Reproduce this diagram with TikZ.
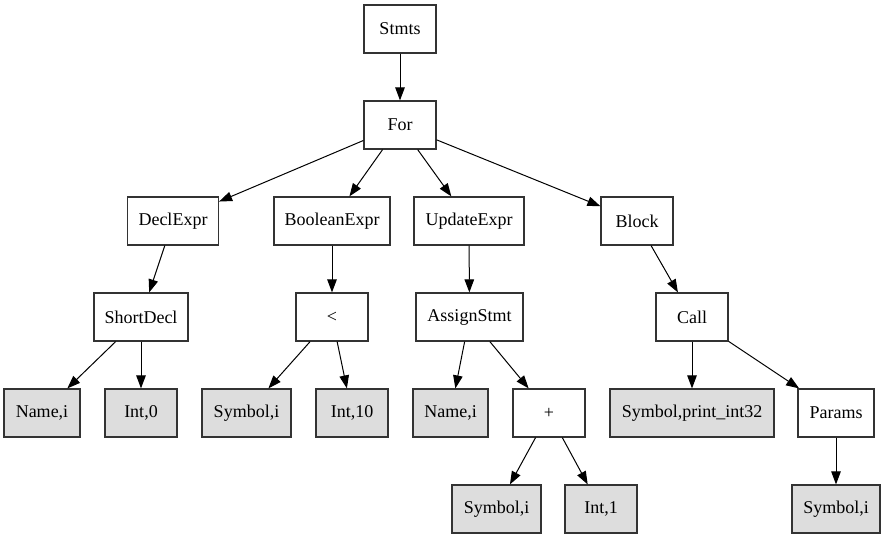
\documentclass[tikz,border=0pt]{standalone}
\usepackage{fontspec}
\setmainfont{Liberation Serif}
\usetikzlibrary{arrows.meta}
\definecolor{leafgray}{HTML}{DDDDDD}
\definecolor{boxline}{HTML}{333333}
\tikzset{
  ast/.style={draw=boxline, line width=1.2pt, rectangle, fill=white,
    minimum height=48pt, minimum width=72pt, inner xsep=10pt, inner ysep=0pt,
    font=\fontsize{18}{20}\selectfont, anchor=center},
  leaf/.style={ast, fill=leafgray},
  edge/.style={draw=black, line width=1pt,
    -{Triangle[length=13pt,width=9.5pt]}}
}
\begin{document}
\begin{tikzpicture}[x=1pt, y=-1pt]
  \useasboundingbox (0,0) rectangle (885,539);
  % level 0-1
  \node[ast] (stmts) at (400,29) {Stmts};
  \node[ast] (for)   at (400,125) {For};
  % level 2
  \node[ast, minimum width=91pt]  (decl)   at (173,221) {DeclExpr};
  \node[ast, minimum width=116pt] (bool)   at (332,221) {BooleanExpr};
  \node[ast, minimum width=110pt] (update) at (469,221) {UpdateExpr};
  \node[ast] (block) at (637,221) {Block};
  % level 3
  \node[ast, minimum width=94pt]  (short)  at (141,317) {ShortDecl};
  \node[ast] (lt) at (332,317) {<};
  \node[ast, minimum width=107pt] (assign) at (469.5,317) {AssignStmt};
  \node[ast] (call) at (692,317) {Call};
  % level 4
  \node[leaf, minimum width=76pt] (name1) at (42,413) {Name,i};
  \node[leaf] (int0) at (141,413) {Int,0};
  \node[leaf, minimum width=89pt] (sym1) at (246.5,413) {Symbol,i};
  \node[leaf] (int10) at (352,413) {Int,10};
  \node[leaf, minimum width=75pt] (name2) at (450.5,413) {Name,i};
  \node[ast] (plus) at (549,413) {+};
  \node[leaf, minimum width=164pt] (print) at (692,413) {Symbol,print\_int32};
  \node[ast, minimum width=76pt] (params) at (836,413) {Params};
  % level 5
  \node[leaf, minimum width=89pt] (sym2) at (496.5,509) {Symbol,i};
  \node[leaf] (int1) at (601,509) {Int,1};
  \node[leaf, minimum width=88pt] (sym3) at (836,509) {Symbol,i};
  % edges
  \draw[edge] (stmts) -- (for);
  \draw[edge] (for) -- (decl);
  \draw[edge] (for) -- (bool);
  \draw[edge] (for) -- (update);
  \draw[edge] (for) -- (block);
  \draw[edge] (decl) -- (short);
  \draw[edge] (bool) -- (lt);
  \draw[edge] (update) -- (assign);
  \draw[edge] (block) -- (call);
  \draw[edge] (short) -- (name1);
  \draw[edge] (short) -- (int0);
  \draw[edge] (lt) -- (sym1);
  \draw[edge] (lt) -- (int10);
  \draw[edge] (assign) -- (name2);
  \draw[edge] (assign) -- (plus);
  \draw[edge] (call) -- (print);
  \draw[edge] (call) -- (params);
  \draw[edge] (plus) -- (sym2);
  \draw[edge] (plus) -- (int1);
  \draw[edge] (params) -- (sym3);
\end{tikzpicture}
\end{document}
